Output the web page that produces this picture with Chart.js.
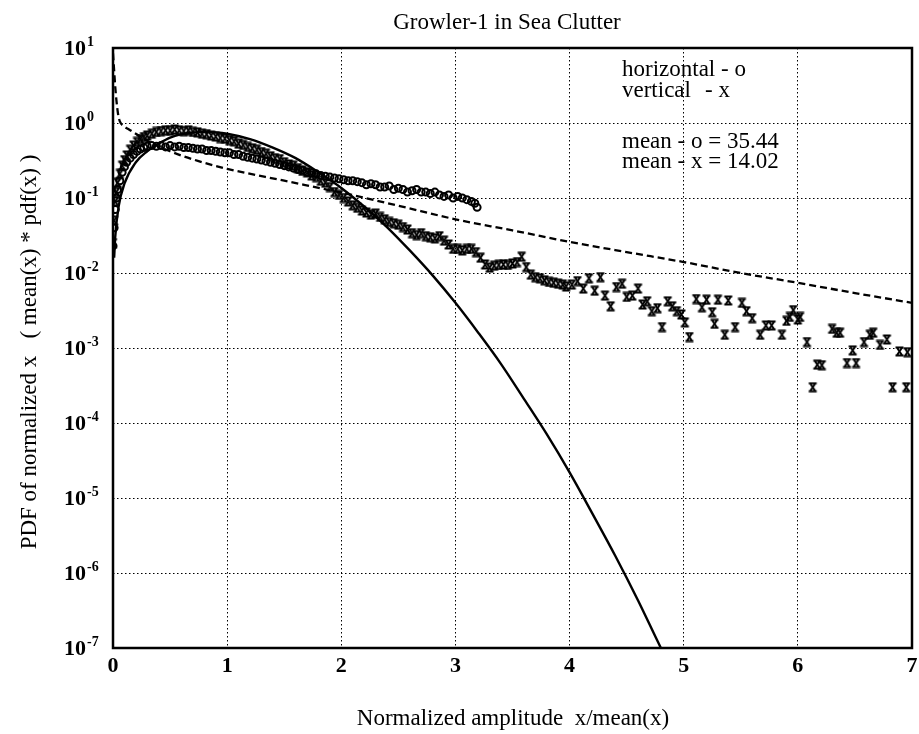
<!DOCTYPE html>
<html>
<head>
<meta charset="utf-8">
<title>Growler-1 in Sea Clutter</title>
<script src="https://cdn.jsdelivr.net/npm/chart.js@4.4.1/dist/chart.umd.min.js"></script>
<style>
  html, body { margin: 0; padding: 0; background: #fff; }
  #wrap { width: 919px; height: 734px; }
</style>
</head>
<body>
<div id="wrap"><canvas id="chart" width="919" height="734"></canvas></div>
<script>
// axis ticks
const xTicks = [0, 1, 2, 3, 4, 5, 6, 7];
const yExponents = [1, 0, -1, -2, -3, -4, -5, -6, -7];

// vertical polarisation samples (x markers)
const vertX = [
  0.00, 0.01, 0.02, 0.03, 0.04, 0.06, 0.08, 0.10, 0.12, 0.15,
  0.18, 0.21, 0.24, 0.27, 0.30, 0.34, 0.38, 0.42, 0.46, 0.50,
  0.54, 0.58, 0.62, 0.66, 0.70, 0.74, 0.78, 0.82, 0.86, 0.90,
  0.94, 0.98, 1.02, 1.06, 1.10, 1.14, 1.18, 1.22, 1.26, 1.30,
  1.34, 1.38, 1.42, 1.46, 1.50, 1.54, 1.58, 1.62, 1.66, 1.70,
  1.74, 1.78, 1.82, 1.86, 1.90, 1.94, 1.98, 2.02, 2.06, 2.10,
  2.14, 2.18, 2.22, 2.26, 2.30, 2.34, 2.38, 2.42, 2.46, 2.50,
  2.54, 2.58, 2.62, 2.66, 2.70, 2.74, 2.78, 2.82, 2.86, 2.90,
  2.94, 2.98, 3.02, 3.06, 3.10, 3.14, 3.18, 3.22, 3.26, 3.30,
  3.34, 3.38, 3.42, 3.46, 3.50, 3.54, 3.58, 3.62, 3.66, 3.70,
  3.74, 3.78, 3.82, 3.86, 3.90, 3.94, 3.97,
  4.02, 4.07, 4.12, 4.17, 4.22, 4.27, 4.31, 4.36, 4.41, 4.46,
  4.50, 4.55, 4.60, 4.64, 4.68, 4.72, 4.77, 4.81, 4.86, 4.90,
  4.94, 4.98, 5.01, 5.05, 5.11, 5.16, 5.20, 5.25, 5.27, 5.30,
  5.36, 5.39, 5.45, 5.51, 5.55, 5.60, 5.67, 5.72, 5.77, 5.86,
  5.90, 5.93, 5.96, 6.00, 6.02, 6.08, 6.13, 6.17, 6.21, 6.30,
  6.34, 6.37, 6.43, 6.48, 6.51, 6.58, 6.63, 6.66, 6.72, 6.78,
  6.83, 6.89, 6.95, 6.96
];
const vertY = [
  0.025, 0.05, 0.09, 0.12, 0.16, 0.21, 0.27, 0.32, 0.37, 0.44,
  0.50, 0.56, 0.61, 0.65, 0.68, 0.72, 0.76, 0.78, 0.80, 0.79,
  0.82, 0.80, 0.78, 0.80, 0.76, 0.75, 0.72, 0.71, 0.68, 0.66,
  0.63, 0.62, 0.59, 0.57, 0.53, 0.51, 0.48, 0.46, 0.44, 0.41,
  0.39, 0.36, 0.34, 0.33, 0.30, 0.28, 0.27, 0.25, 0.23, 0.22,
  0.20, 0.19, 0.17, 0.16, 0.14, 0.12, 0.11, 0.10, 0.090, 0.080,
  0.074, 0.068, 0.064, 0.060, 0.062, 0.056, 0.052, 0.048, 0.046, 0.044,
  0.041, 0.038, 0.034, 0.032, 0.034, 0.031, 0.030, 0.029, 0.031, 0.027,
  0.024, 0.021, 0.021, 0.020, 0.021, 0.021, 0.019, 0.016, 0.013, 0.0118,
  0.0125, 0.0128, 0.0130, 0.0128, 0.0134, 0.0140, 0.0165, 0.0120, 0.0095, 0.0088,
  0.0085, 0.0080, 0.0076, 0.0074, 0.0072, 0.0070, 0.0066,
  0.0070, 0.0078, 0.0062, 0.0085, 0.0058, 0.0088, 0.0050, 0.0036, 0.0065, 0.0072,
  0.0048, 0.0050, 0.0062, 0.0038, 0.0042, 0.0031, 0.0034, 0.0019, 0.0042, 0.0036,
  0.0031, 0.0028, 0.0022, 0.0014, 0.0045, 0.0035, 0.0044, 0.0030, 0.0021, 0.0044,
  0.0015, 0.0043, 0.0019, 0.0040, 0.0031, 0.0025, 0.0015, 0.0020, 0.0020, 0.0015,
  0.0023, 0.0026, 0.0032, 0.0024, 0.0026, 0.0012, 0.00030, 0.00060, 0.00059, 0.0018,
  0.0016, 0.0016, 0.00063, 0.00093, 0.00063, 0.0012, 0.0015, 0.0016, 0.0011, 0.0013,
  0.00030, 0.00090, 0.00030, 0.00088
];

// horizontal polarisation samples (o markers)
const horzX = [
  0.00, 0.01, 0.02, 0.03, 0.04, 0.06, 0.08, 0.10, 0.12, 0.15,
  0.18, 0.21, 0.24, 0.27, 0.30, 0.34, 0.38, 0.42, 0.46, 0.50,
  0.54, 0.58, 0.62, 0.66, 0.70, 0.74, 0.78, 0.82, 0.86, 0.90,
  0.94, 0.98, 1.02, 1.06, 1.10, 1.14, 1.18, 1.22, 1.26, 1.30,
  1.34, 1.38, 1.42, 1.46, 1.50, 1.54, 1.58, 1.62, 1.66, 1.70,
  1.74, 1.78, 1.82, 1.86, 1.90, 1.94, 1.98, 2.02, 2.06, 2.10,
  2.14, 2.18, 2.22, 2.26, 2.30, 2.34, 2.38, 2.42, 2.46, 2.50,
  2.54, 2.58, 2.62, 2.66, 2.70, 2.74, 2.78, 2.82, 2.86, 2.90,
  2.94, 2.98, 3.02, 3.06, 3.10, 3.14, 3.17, 3.19
];
const horzY = [
  0.023, 0.04, 0.07, 0.10, 0.13, 0.17, 0.22, 0.26, 0.30, 0.34,
  0.38, 0.42, 0.45, 0.47, 0.49, 0.50, 0.49, 0.50, 0.48, 0.50,
  0.48, 0.49, 0.47, 0.47, 0.46, 0.45, 0.45, 0.43, 0.43, 0.42,
  0.41, 0.40, 0.40, 0.38, 0.38, 0.36, 0.35, 0.34, 0.33, 0.32,
  0.31, 0.30, 0.29, 0.28, 0.27, 0.26, 0.25, 0.24, 0.235, 0.22,
  0.215, 0.21, 0.20, 0.195, 0.19, 0.185, 0.18, 0.175, 0.17, 0.17,
  0.165, 0.16, 0.15, 0.155, 0.15, 0.14, 0.14, 0.145, 0.13, 0.135,
  0.13, 0.12, 0.125, 0.13, 0.12, 0.12, 0.115, 0.12, 0.11, 0.105,
  0.11, 0.10, 0.105, 0.10, 0.095, 0.09, 0.085, 0.075
];

// solid model curve
const rayX = [0.01, 0.02, 0.05, 0.1, 0.2, 0.3, 0.4, 0.5, 0.6, 0.7, 0.8, 0.9, 1.0,
  1.2, 1.4, 1.6, 1.8, 2.0, 2.2, 2.4, 2.6, 2.8, 3.0, 3.2, 3.4, 3.6, 3.8, 4.0,
  4.2, 4.4, 4.6, 4.8, 4.9];
const rayY = [0.016, 0.031, 0.078, 0.155, 0.30, 0.42, 0.53, 0.64, 0.71, 0.75, 0.76, 0.75, 0.72,
  0.61, 0.47, 0.34, 0.22, 0.136, 0.077, 0.041, 0.020, 0.0093, 0.0040, 0.0016, 0.00061, 0.00021, 0.000071, 0.000022,
  0.0000062, 0.0000017, 0.00000043, 0.00000010, 0.000000050];

// dashed model curve
const dashX = [0, 0.01, 0.02, 0.03, 0.045, 0.06, 0.09, 0.14, 0.2, 0.3, 0.5, 0.75, 1.0,
  1.5, 2.0, 2.5, 3.0, 3.5, 4.0, 4.5, 5.0, 5.5, 6.0, 6.5, 7.0];
const dashY = [8.5, 5.0, 3.0, 2.0, 1.3, 1.05, 0.92, 0.82, 0.72, 0.58, 0.42, 0.31, 0.245,
  0.17, 0.118, 0.079, 0.052, 0.037, 0.026, 0.019, 0.014, 0.010, 0.0074, 0.0054, 0.0040];

const pts = (xs, ys) => xs.map((x, i) => ({ x: x, y: ys[i] }));

// serif "x" glyph used as the vertical marker
function xMark() {
  const c = document.createElement('canvas');
  c.width = 11;
  c.height = 11;
  const g = c.getContext('2d');
  g.strokeStyle = '#000';
  g.lineWidth = 2;
  g.beginPath();
  g.moveTo(1.5, 1.5); g.lineTo(9.5, 1.5);
  g.moveTo(1.5, 9.5); g.lineTo(9.5, 9.5);
  g.moveTo(2.8, 1.5); g.lineTo(8.2, 9.5);
  g.moveTo(8.2, 1.5); g.lineTo(2.8, 9.5);
  g.stroke();
  return c;
}

const SERIF = '"Liberation Serif", "DejaVu Serif", serif';

// frame, tick labels, titles and the note box
const paperLabels = {
  id: 'paperLabels',
  afterDraw(chart) {
    const { ctx, chartArea: a, scales: { x, y } } = chart;
    ctx.save();
    ctx.strokeStyle = '#000';
    ctx.lineWidth = 2.5;
    ctx.strokeRect(a.left, a.top, a.right - a.left, a.bottom - a.top);

    ctx.fillStyle = '#000';
    ctx.textBaseline = 'middle';

    ctx.font = 'bold 22px ' + SERIF;
    ctx.textAlign = 'center';
    xTicks.forEach(v => ctx.fillText(String(v), x.getPixelForValue(v), a.bottom + 18));

    ctx.textAlign = 'left';
    yExponents.forEach(e => {
      const py = y.getPixelForValue(Math.pow(10, e));
      ctx.font = 'bold 22px ' + SERIF;
      ctx.fillText('10', 64, py + 1);
      const w = ctx.measureText('10').width;
      ctx.font = 'bold 14px ' + SERIF;
      ctx.fillText(String(e), 64 + w + 1, py - 6);
    });

    ctx.font = '23px ' + SERIF;
    ctx.textAlign = 'center';
    ctx.fillText('Growler-1 in Sea Clutter', 507, 23);
    ctx.fillText('Normalized amplitude  x/mean(x)', 513, 719);

    ctx.save();
    ctx.translate(30, 352);
    ctx.rotate(-Math.PI / 2);
    ctx.fillText('PDF of normalized x   ( mean(x) * pdf(x) )', 0, 0);
    ctx.restore();

    ctx.textAlign = 'left';
    ctx.fillText('horizontal - o', 622, 70);
    ctx.fillText('vertical', 622, 91);
    ctx.fillText('- x', 705, 91);
    ctx.fillText('mean - o = 35.44', 622, 142);
    ctx.fillText('mean - x = 14.02', 622, 162);
    ctx.restore();
  }
};

const gridOpts = { color: '#000', lineWidth: 1, drawTicks: false };
const borderOpts = { display: false, dash: [1.5, 2.5] };

new Chart(document.getElementById('chart').getContext('2d'), {
  type: 'scatter',
  data: {
    datasets: [
      {
        label: 'vertical - x',
        data: pts(vertX, vertY),
        pointStyle: xMark(),
        pointRadius: 5,
        borderColor: '#000',
        backgroundColor: '#000'
      },
      {
        label: 'horizontal - o',
        data: pts(horzX, horzY),
        pointStyle: 'circle',
        pointRadius: 3.5,
        borderWidth: 2,
        borderColor: '#000',
        backgroundColor: 'rgba(255,255,255,0)'
      },
      {
        label: 'solid',
        data: pts(rayX, rayY),
        showLine: true,
        cubicInterpolationMode: 'monotone',
        borderColor: '#000',
        borderWidth: 2.4,
        pointRadius: 0
      },
      {
        label: 'dashed',
        data: pts(dashX, dashY),
        showLine: true,
        cubicInterpolationMode: 'monotone',
        borderColor: '#000',
        borderWidth: 2.3,
        borderDash: [7, 4],
        pointRadius: 0
      }
    ]
  },
  options: {
    responsive: false,
    animation: false,
    layout: { padding: { top: 48, right: 7, left: 0, bottom: 0 } },
    plugins: {
      legend: { display: false },
      tooltip: { enabled: false }
    },
    scales: {
      x: {
        type: 'linear',
        min: 0,
        max: 7,
        afterBuildTicks: s => { s.ticks = xTicks.map(v => ({ value: v })); },
        afterFit: s => { s.height = 86; },
        ticks: { display: false },
        grid: gridOpts,
        border: borderOpts
      },
      y: {
        type: 'logarithmic',
        min: 1e-7,
        max: 10,
        afterBuildTicks: s => { s.ticks = yExponents.map(e => ({ value: Math.pow(10, e) })); },
        afterFit: s => { s.width = 113; },
        ticks: { display: false },
        grid: gridOpts,
        border: borderOpts
      }
    }
  },
  plugins: [paperLabels]
});
</script>
</body>
</html>
